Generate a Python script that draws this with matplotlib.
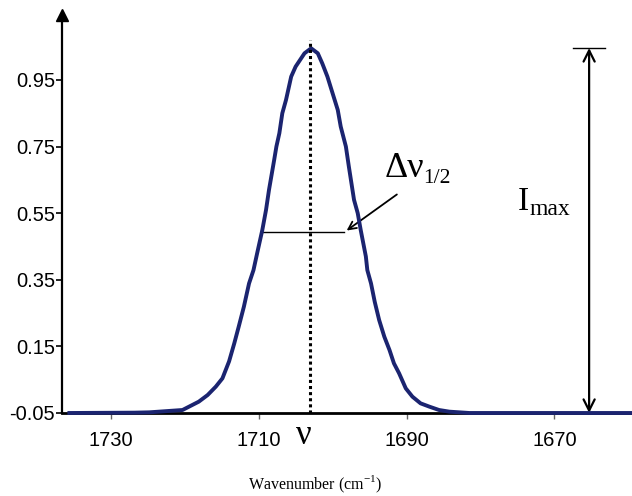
"""Band shape sketch: peak position, half width and maximum intensity."""
import matplotlib.pyplot as plt

plt.rcParams["font.family"] = ["Liberation Sans", "DejaVu Sans"]
plt.rcParams["mathtext.fontset"] = "custom"
plt.rcParams["mathtext.rm"] = "Liberation Serif"

# curve
wavenumber = [1735.6, 1726.8, 1724.8, 1720.3, 1718.1, 1716.9, 1715.8, 1714.9,
              1714.0, 1713.3, 1712.7, 1712.0, 1711.3, 1710.7, 1710.2, 1709.5,
              1709.0, 1708.6, 1707.9, 1707.6, 1707.2, 1706.8, 1706.3, 1705.6,
              1705.0, 1704.4, 1703.8, 1702.9, 1702.0, 1701.4, 1700.7, 1700.0,
              1699.3, 1698.9, 1698.2, 1697.8, 1697.1, 1696.6, 1696.2, 1695.5,
              1695.3, 1694.8, 1694.3, 1693.7, 1693.0, 1692.3, 1691.7, 1691.0,
              1690.1, 1689.2, 1688.1, 1686.9, 1685.6, 1684.2, 1681.5, 1659.6]
intensity = [-0.050, -0.049, -0.048, -0.041, -0.016, 0.004, 0.029, 0.054,
             0.105, 0.159, 0.209, 0.269, 0.339, 0.379, 0.430, 0.500,
             0.560, 0.620, 0.710, 0.750, 0.790, 0.850, 0.890, 0.960,
             0.990, 1.010, 1.030, 1.045, 1.030, 1.000, 0.960, 0.910,
             0.860, 0.810, 0.750, 0.690, 0.590, 0.550, 0.500, 0.420,
             0.379, 0.339, 0.284, 0.229, 0.179, 0.139, 0.099, 0.069,
             0.024, -0.001, -0.021, -0.031, -0.041, -0.046, -0.050, -0.050]

x_ticks = [1730, 1710, 1690, 1670]
y_ticks = [-0.05, 0.15, 0.35, 0.55, 0.75, 0.95]

peak_pos = 1703.0
peak_val = 1.046
half_val = 0.493
half_left, half_right = 1709.7, 1698.4
imax_x = 1665.3

fig = plt.figure(figsize=(6.32, 4.96), dpi=100)
ax = fig.add_axes([62 / 632, 83 / 496, 570 / 632, 398 / 496])
ax.set_xlim(1736.6, 1659.5)
ax.set_ylim(-0.05, 1.145)

ax.plot(wavenumber, intensity, color="#1b2470", lw=2.8, clip_on=False,
        solid_joinstyle="round", zorder=4)

# peak position
ax.plot([peak_pos, peak_pos], [-0.05, 1.07], color="black", ls=(0, (1, 1)),
        lw=2.2, zorder=5)
ax.text(1703.9, -0.118, "ν", family="Liberation Serif", fontsize=25,
        ha="center", va="center")

# half width
ax.plot([half_left, half_right], [half_val, half_val], color="black", lw=1)
ax.annotate("", xy=(half_right, half_val), xytext=(1691.0, 0.611),
            arrowprops=dict(arrowstyle="->", color="black", lw=1.3,
                            mutation_scale=14))
ax.text(1693.0, 0.659, "Δν", family="Liberation Serif", fontsize=26,
        ha="left", va="baseline")
ax.text(1687.8, 0.641, "1/2", family="Liberation Serif", fontsize=15.5,
        ha="left", va="baseline")

# maximum intensity
ax.annotate("", xy=(imax_x, peak_val), xytext=(imax_x, -0.05),
            arrowprops=dict(arrowstyle="<->", color="black", lw=1.6,
                            mutation_scale=20, shrinkA=0, shrinkB=0))
ax.plot([1667.5, 1663.1], [peak_val, peak_val], color="black", lw=1)
ax.text(1675.0, 0.560, "I", family="Liberation Serif", fontsize=24,
        ha="left", va="baseline")
ax.text(1673.4, 0.545, "max", family="Liberation Serif", fontsize=17,
        ha="left", va="baseline")

ax.spines["top"].set_visible(False)
ax.spines["right"].set_visible(False)
ax.spines["left"].set_linewidth(1.6)
ax.spines["bottom"].set_linewidth(2.0)
ax.plot(0, 1, marker="^", color="black", ms=9, transform=ax.transAxes,
        clip_on=False)

ax.set_xticks(x_ticks)
ax.set_yticks(y_ticks)
ax.set_yticklabels([f"{v:.2f}" for v in y_ticks])
ax.tick_params(axis="y", direction="out", length=4, width=1.2, pad=1,
               labelsize=14.5)
ax.tick_params(axis="x", direction="out", length=4, width=1, color="#666666",
               pad=9, labelsize=14.5)

fig.text(315 / 632, 12 / 496, r"Wavenumber (cm$^{\mathrm{-1}}$)",
         family="Liberation Serif", fontsize=11.5, ha="center", va="center")

fig.savefig("out.png", dpi=100)
